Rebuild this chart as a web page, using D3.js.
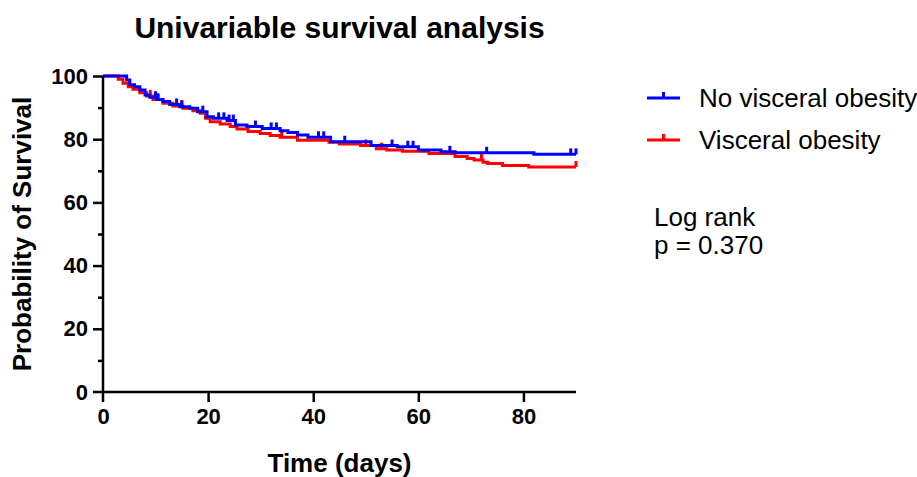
<!DOCTYPE html>
<html>
<head>
<meta charset="utf-8">
<script src="https://cdn.jsdelivr.net/npm/d3@7"></script>
<style>
  body { margin: 0; background: #fff; }
  text { font-family: "Liberation Sans", Arial, sans-serif; }
</style>
</head>
<body>
<div id="chart"></div>
<script>
// step data: time (days) and survival (%) from that time on
var blueTimes = [0, 4.5, 5.1, 6, 7, 8, 8.9, 10.2, 11.4, 12.7, 14.6, 16.5, 18, 19.8, 21, 23.6, 25.2, 27.4, 30.3, 33.7, 35.2, 37, 39, 43.3, 51, 56, 60, 64.3, 67, 82];
var blueSurv  = [100, 98.7, 97.2, 96.6, 95.6, 94.0, 93.3, 92.6, 91.9, 91.0, 90.3, 89.8, 88.7, 87.1, 86.6, 85.9, 84.5, 84.0, 83.4, 82.7, 82.1, 81.3, 80.6, 79.2, 78.0, 77.6, 76.6, 76.0, 75.7, 75.2];
var blueCensor = [10, 10.5, 14, 15, 19, 22, 23, 24, 24.8, 29, 32, 33, 41, 42, 46, 55, 58, 59, 66, 73, 89, 90];

var redTimes = [0, 2.9, 3.8, 4.8, 5.7, 7, 8.3, 9.5, 11.4, 13.3, 15.2, 17.1, 18.5, 19.5, 20.4, 22.3, 24.2, 25.5, 27.6, 29.9, 31.8, 33.7, 37, 43, 45, 49, 52, 54, 57, 62, 67, 69.3, 70.6, 72.3, 73.2, 76, 81];
var redSurv  = [100, 99.0, 97.7, 96.6, 95.8, 94.7, 93.7, 92.6, 91.4, 90.5, 89.8, 89.0, 88.2, 86.6, 85.5, 84.8, 84.0, 83.2, 82.4, 81.8, 81.2, 80.6, 79.7, 79.0, 78.5, 78.0, 77.0, 76.6, 76.2, 75.5, 74.5, 73.9, 73.4, 72.7, 72.3, 71.7, 71.2];
var redCensor = [9, 15, 34, 50, 53, 72, 90];

var seriesNames = ["No visceral obesity", "Visceral obesity"];
var seriesColors = ["#0000ff", "#ff0000"];
var xTicks = [0, 20, 40, 60, 80];
var yTicks = [0, 20, 40, 60, 80, 100];
var yMinorTicks = [10, 30, 50, 70, 90];

var W = 917, H = 477;
var margin = {top: 76, right: 341, bottom: 85, left: 103},
    width = W - margin.left - margin.right,
    height = H - margin.top - margin.bottom;

var svg = d3.select("#chart")
  .append("svg")
    .attr("width", W)
    .attr("height", H)
  .append("g")
    .attr("transform", "translate(" + margin.left + "," + margin.top + ")");

var x = d3.scaleLinear().domain([0, 90]).range([0, width]);
var y = d3.scaleLinear().domain([0, 100]).range([height, 0]);

// title
svg.append("text")
  .attr("x", width / 2)
  .attr("y", -38)
  .attr("text-anchor", "middle")
  .style("font-size", "30px")
  .style("font-weight", "bold")
  .text("Univariable survival analysis");

// step-line helper
function stepPoints(times, surv) {
  var pts = [];
  for (var i = 0; i < times.length; i++) pts.push([times[i], surv[i]]);
  pts.push([90, surv[surv.length - 1]]);
  return pts;
}
function survAt(times, surv, t) {
  var v = surv[0];
  for (var i = 0; i < times.length; i++) if (times[i] <= t) v = surv[i];
  return v;
}

var line = d3.line()
  .curve(d3.curveStepAfter)
  .x(function(d) { return x(d[0]); })
  .y(function(d) { return y(d[1]); });

var series = [
  {times: blueTimes, surv: blueSurv, censor: blueCensor, color: seriesColors[0]},
  {times: redTimes, surv: redSurv, censor: redCensor, color: seriesColors[1]}
];

// draw red first so blue sits on top
series.slice().reverse().forEach(function(s) {
  svg.append("path")
    .datum(stepPoints(s.times, s.surv))
    .attr("fill", "none")
    .attr("stroke", s.color)
    .attr("stroke-width", 3)
    .attr("d", line);

  svg.selectAll(null)
    .data(s.censor)
    .enter()
    .append("line")
      .attr("x1", function(d) { return x(d); })
      .attr("x2", function(d) { return x(d); })
      .attr("y1", function(d) { return y(survAt(s.times, s.surv, d)); })
      .attr("y2", function(d) { return y(survAt(s.times, s.surv, d)) - 6; })
      .attr("stroke", s.color)
      .attr("stroke-width", 3);
});

// axes
var xAxis = svg.append("g")
  .attr("transform", "translate(0," + height + ")")
  .call(d3.axisBottom(x).tickValues(xTicks).tickSize(10).tickPadding(6).tickSizeOuter(0));
var yAxis = svg.append("g")
  .call(d3.axisLeft(y).tickValues(yTicks).tickSize(10).tickPadding(5).tickSizeOuter(0));
svg.append("g")
  .call(d3.axisLeft(y).tickValues(yMinorTicks).tickSize(5).tickFormat("").tickSizeOuter(0))
  .select(".domain").remove();

[xAxis, yAxis].forEach(function(a) {
  a.selectAll(".domain").attr("stroke", "#000").attr("stroke-width", 2.5);
  a.selectAll(".tick text")
    .style("font-family", "'Liberation Sans', Arial, sans-serif")
    .style("font-size", "22px")
    .style("font-weight", "bold")
    .attr("fill", "#000");
});
svg.selectAll(".tick line").attr("stroke", "#000").attr("stroke-width", 2.5);
// axis lines run past each other at the origin, like the reference
xAxis.select(".domain").attr("d", "M-10,0H" + width);
yAxis.select(".domain").attr("d", "M0,0V" + (height + 10));
xAxis.selectAll(".tick").filter(function(d) { return d === 0; }).select("line").remove();
yAxis.selectAll(".tick").filter(function(d) { return d === 0; }).select("line").remove();

// axis titles
svg.append("text")
  .attr("x", width / 2)
  .attr("y", height + 80)
  .attr("text-anchor", "middle")
  .style("font-size", "26px")
  .style("font-weight", "bold")
  .text("Time (days)");

svg.append("text")
  .attr("transform", "translate(" + (-72) + "," + (height / 2) + ") rotate(-90)")
  .attr("text-anchor", "middle")
  .style("font-size", "26px")
  .style("font-weight", "bold")
  .text("Probability of Survival");

// legend
var legend = svg.append("g")
  .attr("transform", "translate(" + (647 - margin.left) + "," + (98 - margin.top) + ")");
seriesNames.forEach(function(name, i) {
  var g = legend.append("g").attr("transform", "translate(0," + (i * 42) + ")");
  g.append("line")
    .attr("x1", 0).attr("x2", 33)
    .attr("stroke", seriesColors[i]).attr("stroke-width", 3);
  g.append("line")
    .attr("x1", 16.5).attr("x2", 16.5).attr("y1", 0).attr("y2", -6)
    .attr("stroke", seriesColors[i]).attr("stroke-width", 3);
  g.append("text")
    .attr("x", 52)
    .attr("y", 9)
    .style("font-size", "26px")
    .text(name);
});

legend.append("text")
  .attr("x", 7).attr("y", 128)
  .style("font-size", "26px")
  .text("Log rank");
legend.append("text")
  .attr("x", 7).attr("y", 156)
  .style("font-size", "26px")
  .text("p = 0.370");
</script>
</body>
</html>
